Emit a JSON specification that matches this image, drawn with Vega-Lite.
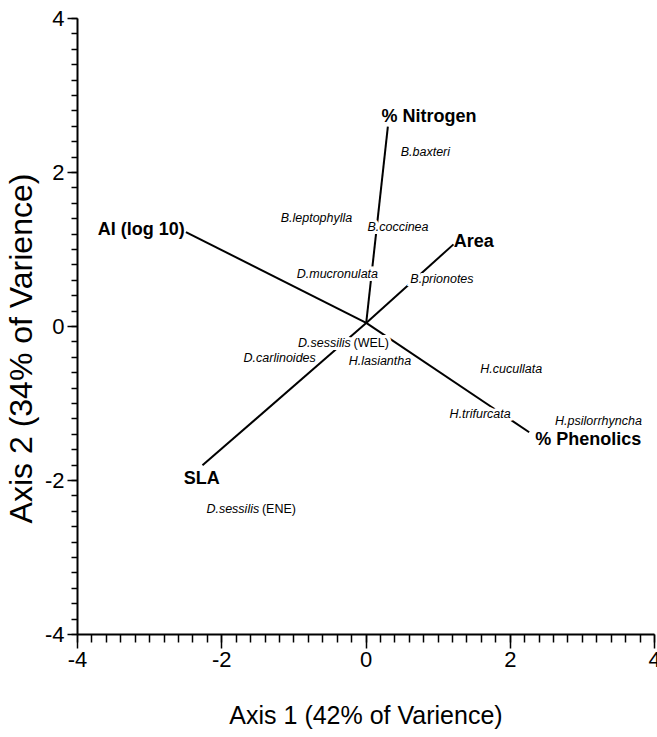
{
  "$schema": "https://vega.github.io/schema/vega-lite/v6.json",
  "width": 577,
  "height": 616,
  "autosize": "none",
  "padding": {"left": 77, "top": 18, "right": 3, "bottom": 103},
  "background": "white",
  "config": {"view": {"stroke": null}, "font": "Liberation Sans"},
  "resolve": {"axis": {"x": "independent", "y": "independent"}},
  "datasets": {
    "vectors": [
      {"variable": "% Nitrogen", "ox": 0.01, "oy": 0.04, "x": 0.31, "y": 2.59},
      {"variable": "Area", "ox": 0.01, "oy": 0.04, "x": 1.22, "y": 1.06},
      {"variable": "SLA", "ox": 0.01, "oy": 0.04, "x": -2.26, "y": -1.81},
      {"variable": "AI (log 10)", "ox": 0.01, "oy": 0.04, "x": -2.49, "y": 1.22},
      {"variable": "% Phenolics", "ox": 0.01, "oy": 0.04, "x": 2.27, "y": -1.38}
    ],
    "labels": [
      {"text": "% Nitrogen", "group": "variable", "x": 0.88, "y": 2.71},
      {"text": "Area", "group": "variable", "x": 1.50, "y": 1.09},
      {"text": "AI (log 10)", "group": "variable", "x": -3.11, "y": 1.25},
      {"text": "SLA", "group": "variable", "x": -2.27, "y": -1.99},
      {"text": "% Phenolics", "group": "variable", "x": 3.09, "y": -1.48},
      {"text": "B.baxteri", "group": "species", "x": 0.83, "y": 2.26},
      {"text": "B.leptophylla", "group": "species", "x": -0.68, "y": 1.40},
      {"text": "B.coccinea", "group": "species", "x": 0.45, "y": 1.28},
      {"text": "D.mucronulata", "group": "species", "x": -0.39, "y": 0.68},
      {"text": "B.prionotes", "group": "species", "x": 1.06, "y": 0.61},
      {"text": "D.sessilis", "group": "species", "x": -0.57, "y": -0.22},
      {"text": "(WEL)", "group": "site", "x": 0.08, "y": -0.22},
      {"text": "D.carlinoides", "group": "species", "x": -1.19, "y": -0.42},
      {"text": "H.lasiantha", "group": "species", "x": 0.20, "y": -0.45},
      {"text": "H.cucullata", "group": "species", "x": 2.02, "y": -0.56},
      {"text": "H.trifurcata", "group": "species", "x": 1.59, "y": -1.14},
      {"text": "H.psilorrhyncha", "group": "species", "x": 3.23, "y": -1.23},
      {"text": "D.sessilis", "group": "species", "x": -1.84, "y": -2.38},
      {"text": "(ENE)", "group": "site", "x": -1.20, "y": -2.38}
    ]
  },
  "layer": [
    {
      "data": {"name": "vectors"},
      "mark": {"type": "rule", "color": "black", "strokeWidth": 2},
      "encoding": {
        "x": {
          "field": "ox", "type": "quantitative",
          "scale": {"domain": [-4, 4], "nice": false, "zero": false},
          "axis": {
            "orient": "bottom",
            "title": "Axis 1 (42% of Varience)",
            "values": [-4, -2, 0, 2, 4],
            "labelExpr": "'' + datum.value",
            "tickSize": 14,
            "tickWidth": 1.5,
            "tickColor": "black",
            "domainColor": "black",
            "domainWidth": 2,
            "grid": false,
            "labelFont": "Liberation Sans",
            "labelFontSize": 22,
            "labelColor": "black",
            "labelPadding": 1,
            "labelOverlap": false,
            "labelFlush": false,
            "titleFont": "Liberation Sans",
            "titleFontSize": 25,
            "titleFontWeight": "normal",
            "titleColor": "black",
            "titlePadding": 33
          }
        },
        "y": {
          "field": "oy", "type": "quantitative",
          "scale": {"domain": [-4, 4], "nice": false, "zero": false},
          "axis": {
            "orient": "left",
            "title": "Axis 2 (34% of Varience)",
            "values": [-4, -2, 0, 2, 4],
            "labelExpr": "'' + datum.value",
            "tickSize": 10,
            "tickWidth": 1.5,
            "tickColor": "black",
            "domainColor": "black",
            "domainWidth": 2,
            "grid": false,
            "labelFont": "Liberation Sans",
            "labelFontSize": 22,
            "labelColor": "black",
            "labelPadding": 3,
            "labelOverlap": false,
            "labelFlush": false,
            "titleFont": "Liberation Sans",
            "titleFontSize": 32,
            "titleFontWeight": "normal",
            "titleColor": "black",
            "titlePadding": 6,
            "titleY": 330
          }
        },
        "x2": {"field": "x"},
        "y2": {"field": "y"}
      }
    },
    {
      "data": {"name": "labels"},
      "transform": [{"filter": "datum.group !== 'variable'"}],
      "mark": {"type": "text", "font": "Liberation Sans", "fontSize": 12.5, "fontStyle": "italic", "stroke": "white", "strokeWidth": 6, "fill": "white", "align": "center", "baseline": "middle"},
      "encoding": {
        "x": {
          "field": "x", "type": "quantitative",
          "axis": {
            "orient": "bottom",
            "title": null,
            "values": [-4,-3.8,-3.6,-3.4,-3.2,-3,-2.8,-2.6,-2.4,-2.2,-2,-1.8,-1.6,-1.4,-1.2,-1,-0.8,-0.6,-0.4,-0.2,0,0.2,0.4,0.6,0.8,1,1.2,1.4,1.6,1.8,2,2.2,2.4,2.6,2.8,3,3.2,3.4,3.6,3.8,4],
            "labels": false,
            "domain": false,
            "grid": false,
            "tickSize": 8,
            "tickWidth": 1.5,
            "tickColor": "black"
          }
        },
        "y": {
          "field": "y", "type": "quantitative",
          "axis": {
            "orient": "left",
            "title": null,
            "values": [-4,-3.8,-3.6,-3.4,-3.2,-3,-2.8,-2.6,-2.4,-2.2,-2,-1.8,-1.6,-1.4,-1.2,-1,-0.8,-0.6,-0.4,-0.2,0,0.2,0.4,0.6,0.8,1,1.2,1.4,1.6,1.8,2,2.2,2.4,2.6,2.8,3,3.2,3.4,3.6,3.8,4],
            "labels": false,
            "domain": false,
            "grid": false,
            "tickSize": 6,
            "tickWidth": 1.5,
            "tickColor": "black"
          }
        },
        "text": {"field": "text"}
      }
    },
    {
      "data": {"name": "labels"},
      "transform": [{"filter": "datum.group === 'variable'"}],
      "mark": {"type": "text", "font": "Liberation Sans", "fontSize": 18, "fontWeight": "bold", "color": "black", "align": "center", "baseline": "middle"},
      "encoding": {
        "x": {"field": "x", "type": "quantitative", "axis": null},
        "y": {"field": "y", "type": "quantitative", "axis": null},
        "text": {"field": "text"}
      }
    },
    {
      "data": {"name": "labels"},
      "transform": [{"filter": "datum.group === 'species'"}],
      "mark": {"type": "text", "font": "Liberation Sans", "fontSize": 12.5, "fontStyle": "italic", "color": "black", "align": "center", "baseline": "middle"},
      "encoding": {
        "x": {"field": "x", "type": "quantitative", "axis": null},
        "y": {"field": "y", "type": "quantitative", "axis": null},
        "text": {"field": "text"}
      }
    },
    {
      "data": {"name": "labels"},
      "transform": [{"filter": "datum.group === 'site'"}],
      "mark": {"type": "text", "font": "Liberation Sans", "fontSize": 12.5, "color": "black", "align": "center", "baseline": "middle"},
      "encoding": {
        "x": {"field": "x", "type": "quantitative", "axis": null},
        "y": {"field": "y", "type": "quantitative", "axis": null},
        "text": {"field": "text"}
      }
    }
  ]
}
